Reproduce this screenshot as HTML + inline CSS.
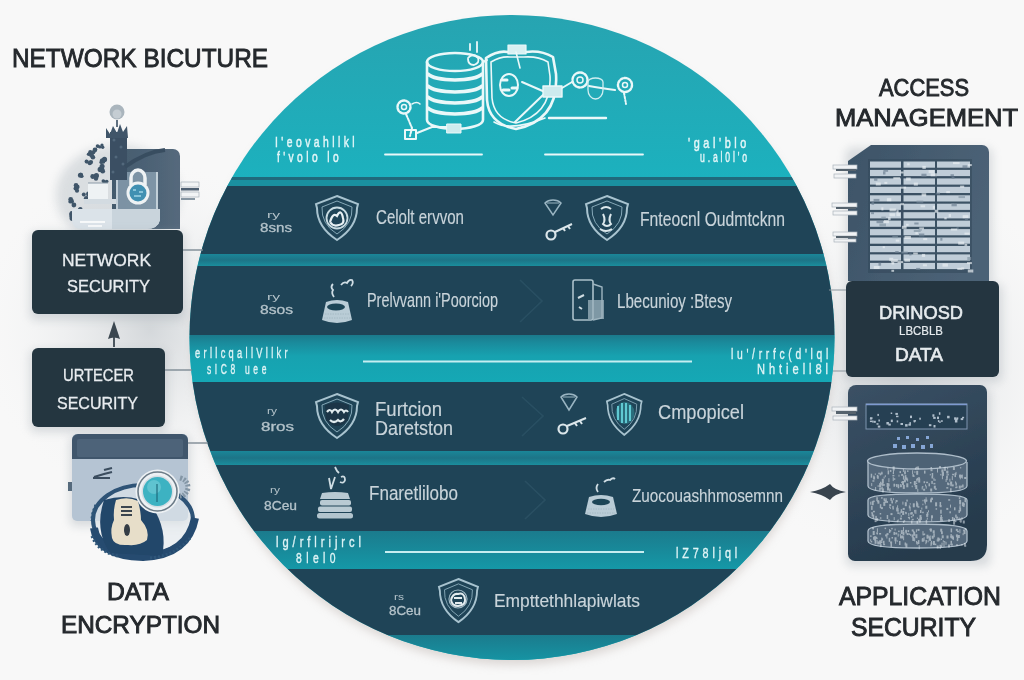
<!DOCTYPE html>
<html><head><meta charset="utf-8">
<style>
html,body{margin:0;padding:0;width:1024px;height:680px;overflow:hidden;background:#f4f5f6;}
svg{display:block;}
text{font-family:"Liberation Sans",sans-serif;}
</style></head>
<body>
<svg width="1024" height="680" viewBox="0 0 1024 680">
<defs>
  <linearGradient id="cap" x1="0" y1="15" x2="0" y2="178" gradientUnits="userSpaceOnUse">
    <stop offset="0" stop-color="#27a4b1"/>
    <stop offset="1" stop-color="#1cb1be"/>
  </linearGradient>
  <linearGradient id="stripe" x1="0" y1="0" x2="0" y2="1">
    <stop offset="0" stop-color="#1a8698"/>
    <stop offset="0.5" stop-color="#1d7487"/>
    <stop offset="1" stop-color="#1a8e9d"/>
  </linearGradient>
  <linearGradient id="band" x1="0" y1="0" x2="0" y2="1">
    <stop offset="0" stop-color="#1b7a8c"/>
    <stop offset="0.17" stop-color="#1a8b9c"/>
    <stop offset="0.45" stop-color="#17a2b0"/>
    <stop offset="1" stop-color="#15a8b5"/>
  </linearGradient>
  <linearGradient id="band2" x1="0" y1="0" x2="0" y2="1">
    <stop offset="0" stop-color="#1b7b8d"/>
    <stop offset="1" stop-color="#1598a7"/>
  </linearGradient>
  <radialGradient id="shadeL" cx="150" cy="330" r="170" gradientUnits="userSpaceOnUse">
    <stop offset="0" stop-color="#c8cdd1" stop-opacity="0.75"/>
    <stop offset="1" stop-color="#f4f5f6" stop-opacity="0"/>
  </radialGradient>
  <radialGradient id="shadeR" cx="900" cy="370" r="190" gradientUnits="userSpaceOnUse">
    <stop offset="0" stop-color="#c8cdd1" stop-opacity="0.7"/>
    <stop offset="1" stop-color="#f4f5f6" stop-opacity="0"/>
  </radialGradient>
  <clipPath id="circ"><circle cx="512" cy="337.5" r="322.5"/></clipPath>
  <filter id="blur1" x="-20%" y="-20%" width="140%" height="140%"><feGaussianBlur stdDeviation="5"/></filter>
  <filter id="blur2" x="-20%" y="-20%" width="140%" height="140%"><feGaussianBlur stdDeviation="16"/></filter>
  <filter id="soft" x="-5%" y="-5%" width="110%" height="110%"><feGaussianBlur stdDeviation="0.45"/></filter>
</defs>
<rect width="1024" height="680" fill="#f8f8f8"/>
<rect width="1024" height="680" fill="url(#shadeL)"/>
<rect width="1024" height="680" fill="url(#shadeR)"/>

<!-- circle shadow -->
<circle cx="513" cy="344" r="321" fill="#c4bcb8" opacity="0.55" filter="url(#blur1)"/>

<!-- circle -->
<g clip-path="url(#circ)">
  <rect x="180" y="10" width="670" height="670" fill="url(#cap)"/>
  <rect x="180" y="177" width="670" height="3" fill="#20697b"/>
  <rect x="180" y="180" width="670" height="6" fill="#1a90a0"/>
  <rect x="180" y="186" width="670" height="68" fill="#1f4457"/>
  <rect x="180" y="254" width="670" height="12" fill="url(#stripe)"/>
  <rect x="180" y="266" width="670" height="69" fill="#1f4457"/>
  <rect x="180" y="335" width="670" height="47" fill="url(#band)"/>
  <rect x="180" y="382" width="670" height="69" fill="#1f4457"/>
  <rect x="180" y="451" width="670" height="14" fill="url(#stripe)"/>
  <rect x="180" y="465" width="670" height="66" fill="#1f4457"/>
  <rect x="180" y="531" width="670" height="38" fill="url(#band2)"/>
  <rect x="180" y="569" width="670" height="66" fill="#1f4457"/>
  <rect x="180" y="635" width="670" height="30" fill="url(#band2)"/>
</g>

<!-- ICONS_CENTER -->
<g fill="none" stroke="#eaf8f9" stroke-linecap="round" stroke-linejoin="round" filter="url(#soft)">
  <!-- database -->
  <path d="M427 62 V120 A28 9 0 0 0 483 120 V62" stroke-width="2.6"/>
  <ellipse cx="455" cy="62" rx="28" ry="9" stroke-width="2.6"/>
  <path d="M428 74 A28 8 0 0 0 482 74" stroke-width="3.5"/>
  <path d="M428 86 A28 8 0 0 0 482 86" stroke-width="3.5"/>
  <path d="M428 97 A28 8 0 0 0 482 97" stroke-width="3.5"/>
  <path d="M428 108 A28 8 0 0 0 482 108" stroke-width="3.5"/>
  <!-- shield -->
  <path d="M486 58 Q498 50 508 52 H526 Q541 50 553 57 L556 74 Q559 120 516 129 Q489 124 487 100 Z" stroke-width="2.6"/>
  <path d="M491 62 Q501 56 510 57 H524 Q538 56 548 62 L550 76 Q552 114 516 123 Q494 119 492 98 Z" stroke-width="1.6"/>
  <rect x="508" y="45" width="18" height="9" fill="#d8f0f2" stroke-width="1.2"/>
  <ellipse cx="509" cy="85" rx="9" ry="11" stroke-width="2"/>
  <path d="M502 80 h5 M503 90 h6 M512 88 h5" stroke-width="3"/>
  <path d="M522 82 L545 92 M515 122 L543 95" stroke-width="2"/>
  <path d="M516 52 L520 68" stroke-width="1.6"/>
  <rect x="543" y="86" width="19" height="11" fill="#cdebee" stroke-width="1.4"/>
  <!-- squiggle top -->
  <path d="M470 44 v6 M477 42 v10 M468 58 q5 -6 10 0 q2 5 -4 7 q-6 0 -6 -6" stroke-width="1.8"/>
  <path d="M483 62 L487 60" stroke-width="2"/>
  <!-- left gear + chain -->
  <circle cx="404" cy="107" r="6.5" stroke-width="2.4" stroke-dasharray="2.5 1.5"/>
  <circle cx="404" cy="107" r="2.5" stroke-width="1.5"/>
  <path d="M406 114 L412 128 L410 136" stroke-width="2" stroke-dasharray="3 1.5"/>
  <path d="M412 104 q5 -3 8 0" stroke-width="1.5"/>
  <rect x="405" y="130" width="11" height="9" stroke-width="2"/>
  <path d="M417 133 L432 127 H460" stroke-width="2"/>
  <rect x="447" y="124" width="14" height="9" fill="#cdebee" stroke-width="1"/>
  <!-- right gears -->
  <path d="M562 88 L572 82" stroke-width="1.8"/>
  <circle cx="580" cy="80" r="7.5" stroke-width="2.4" stroke-dasharray="2.5 1.5"/>
  <circle cx="580" cy="80" r="3" stroke-width="1.5"/>
  <path d="M589 86 Q600 88 615 90" stroke-width="2"/>
  <path d="M588 90 a7.5 9 0 0 0 15 0 v-8 a7.5 4 0 0 0 -15 0 z" stroke="#cfeef1" stroke-width="1.3"/>
  <circle cx="625" cy="85" r="7" stroke-width="2.4" stroke-dasharray="2.5 1.5"/>
  <circle cx="625" cy="85" r="2.5" stroke-width="1.5"/>
  <path d="M624 93 L626 104" stroke-width="2" stroke-dasharray="2 1.5"/>
  <path d="M549 118 H606" stroke-width="2.4"/>
  <path d="M494 122 Q510 132 545 118" stroke-width="1.6"/>
  <!-- base lines -->
  <path d="M385 154.5 H482 M545 154.5 H643" stroke-width="1.8"/>
</g>
<!-- tiny pseudo text (top cap) -->
<g fill="#e3f6f8" stroke="#e3f6f8" stroke-width="0.5" font-size="15" filter="url(#soft)">
  <text x="275" y="147" textLength="83" lengthAdjust="spacingAndGlyphs" letter-spacing="5">I'eovahllkl</text>
  <text x="277" y="162" textLength="65" lengthAdjust="spacingAndGlyphs" letter-spacing="5">f'volo lo</text>
  <text x="688" y="148" textLength="62" lengthAdjust="spacingAndGlyphs" letter-spacing="5">'gal'blo</text>
  <text x="700" y="162" textLength="50" lengthAdjust="spacingAndGlyphs" letter-spacing="5">u.al0l'o</text>
</g>


<!-- ROWS -->
<defs>
  <g id="shld">
    <path d="M22 1 L43 9 L42 13 Q42 32 22 45 Q2 32 2 13 L1 9 Z" fill="none" stroke="#a8c3cf" stroke-width="2"/>
    <path d="M22 6 L37 12 Q38 29 22 39 Q6 29 7 12 Z" fill="none" stroke="#86a9b8" stroke-width="1"/>
  </g>
</defs>
<g filter="url(#soft)">
  <!-- row1 left -->
  <use href="#shld" x="315" y="195"/>
  <circle cx="337" cy="218" r="10.5" fill="none" stroke="#c8dbe2" stroke-width="1.8"/>
  <path d="M330 222 q3 -10 7 -6 q4 -8 6 2 q2 6 -4 7 q-6 2 -9 -3" fill="none" stroke="#e8f0f3" stroke-width="2.2"/>
  <!-- row1 right -->
  <use href="#shld" x="585" y="195"/>
  <path d="M601 209 q5 -4 10 0 M603 214 q3 6 0 10 q4 4 8 0 q-3 -4 0 -10 M600 229 q6 4 12 0" fill="none" stroke="#dce8ec" stroke-width="2"/>
  <path d="M545 203 q3 -3 8 -3 q5 0 8 3 l-8 12 z" fill="none" stroke="#9ab5c2" stroke-width="1.5"/><path d="M547 203 h12" stroke="#9ab5c2" stroke-width="1"/>
  <circle cx="551" cy="235" r="4.5" fill="none" stroke="#dbe6ea" stroke-width="2.2"/>
  <path d="M555 232 L572 224 M563 228 l2 3 M568 226 l2 3" fill="none" stroke="#dbe6ea" stroke-width="2"/>
  <!-- row2 left bowl -->
  <path d="M322 320 L326 302 Q337 298 348 302 L352 320 Q337 326 322 320 Z" fill="#b9ccd6"/>
  <ellipse cx="336" cy="307" rx="9" ry="3.5" fill="#1f4457"/>
  <path d="M325 314 h25 M324 318 h27" stroke="#9fb5c0" stroke-width="0.8" stroke-dasharray="1.5 1"/>
  <path d="M334 297 q-3 -4 -1 -7 q-3 -3 0 -6 M341 285 q3 -4 6 -2 q2 -4 5 -3 q2 3 -1 6" fill="none" stroke="#cfdde4" stroke-width="1.8"/>
  <!-- row2 right doc -->
  <rect x="573" y="280" width="20" height="40" rx="2" fill="none" stroke="#aac0ca" stroke-width="1.6"/>
  <path d="M593 284 L602 287 V318 L593 320" fill="none" stroke="#9fb6c1" stroke-width="1.4"/>
  <rect x="588" y="300" width="16" height="19" fill="#9fb4bf" opacity="0.75"/>
  <path d="M578 298 l6 -3 M579 307 l3 2" stroke="#cfdce2" stroke-width="2"/>
  <!-- row3 left shield -->
  <use href="#shld" x="315" y="393"/>
  <path d="M325 405 Q337 400 349 405 L348 420 Q337 432 326 420 Z" fill="#1b3647"/>
  <path d="M327 412 q3 -4 5 0 q3 -5 6 0 q3 -5 6 0 q2 -3 4 0 M330 420 q4 4 8 0 q3 3 6 -1" fill="none" stroke="#e1ebef" stroke-width="2.2"/>
  <!-- row3 right shield -->
  <use href="#shld" x="606" y="393" transform="translate(606 393) scale(0.83 0.93) translate(-606 -393)"/>
  <ellipse cx="625" cy="413" rx="9.5" ry="11" fill="#2b6d7c"/>
  <path d="M618 406 v14 M622 403 v20 M626 403 v20 M630 405 v16" stroke="#6fe0e8" stroke-width="1.6"/>
  <path d="M561 397 q3 -3 8 -3 q5 0 8 3 l-8 13 z" fill="none" stroke="#9ab5c2" stroke-width="1.5"/><path d="M563 397 h12" stroke="#9ab5c2" stroke-width="1"/>
  <circle cx="563" cy="429" r="4.5" fill="none" stroke="#dbe6ea" stroke-width="2.2"/>
  <path d="M567 426 L586 418 M575 423 l2 3 M580 421 l2 3" fill="none" stroke="#dbe6ea" stroke-width="2"/>
  <!-- row4 left stack -->
  <path d="M322 493 Q335 491 348 493 L350 499 H320 Z" fill="#b9cad3"/>
  <rect x="320" y="500" width="31" height="5.5" rx="2" fill="#b9cad3"/>
  <rect x="318" y="506.5" width="34" height="5.5" rx="2" fill="#b9cad3"/>
  <rect x="317" y="513" width="36" height="5.5" rx="2.5" fill="#b3c5ce"/>
  <path d="M329 478 l2 11 l4 -12 M341 477 q4 -2 4 3 q-1 4 -5 2 M335 467 l2 4 l2 2" fill="none" stroke="#cfdde3" stroke-width="1.8"/>
  <!-- row4 right bowl -->
  <path d="M585 514 L589 497 Q601 493 613 497 L617 514 Q601 520 585 514 Z" fill="#b9ccd6"/>
  <ellipse cx="601" cy="502" rx="9" ry="3.2" fill="#1f4457"/>
  <path d="M588 509 h26 M587 513 h28" stroke="#9fb5c0" stroke-width="0.8" stroke-dasharray="1.5 1"/>
  <path d="M598 492 q-3 -4 0 -8 M604 482 q3 -3 6 -2 q3 -3 5 -1" fill="none" stroke="#cfdde4" stroke-width="1.8"/>
  <!-- row5 shield -->
  <use href="#shld" x="438" y="578" transform="translate(438 578) scale(0.93 0.98) translate(-438 -578)"/>
  <circle cx="458" cy="599" r="9" fill="none" stroke="#9fb8c3" stroke-width="1.2"/>
  <path d="M451 600 q2 -7 7 -6 q6 -2 7 5 q1 6 -7 7 q-6 0 -7 -6 M454 598 h8 M455 603 h7" fill="none" stroke="#e3ecef" stroke-width="2"/>
</g>
<!-- faint chevrons -->
<g fill="none" stroke="#2b5164" stroke-width="1.6" opacity="0.9">
  <path d="M520 280 L542 301 L520 322"/>
  <path d="M522 397 L543 416 L522 436"/>
  <path d="M525 481 L545 500 L525 519"/>
</g>
<g fill="#c9d4da" stroke="#c9d4da" stroke-width="0.15" filter="url(#soft)">
  <text x="376" y="224" font-size="19.5" textLength="88" lengthAdjust="spacingAndGlyphs">Celolt ervvon</text>
  <text x="640" y="226" font-size="19.5" textLength="145" lengthAdjust="spacingAndGlyphs">Fnteocnl Oudmtcknn</text>
  <text x="367" y="307" font-size="19.5" textLength="131" lengthAdjust="spacingAndGlyphs">Prelvvann i'Poorciop</text>
  <text x="617" y="308" font-size="19.5" textLength="115" lengthAdjust="spacingAndGlyphs">Lbecunioy :Btesy</text>
  <text x="375" y="416" font-size="19.5" textLength="67" lengthAdjust="spacingAndGlyphs">Furtcion</text>
  <text x="375" y="435" font-size="19.5" textLength="78" lengthAdjust="spacingAndGlyphs">Daretston</text>
  <text x="658" y="419" font-size="19.5" textLength="86" lengthAdjust="spacingAndGlyphs">Cmpopicel</text>
  <text x="369" y="500" font-size="19.5" textLength="89" lengthAdjust="spacingAndGlyphs">Fnaretlilobo</text>
  <text x="632" y="502" font-size="19" textLength="151" lengthAdjust="spacingAndGlyphs">Zuocouashhmosemnn</text>
  <text x="494" y="607" font-size="19" textLength="146" lengthAdjust="spacingAndGlyphs">Empttethhlapiwlats</text>
</g>
<g fill="#b4c3ca" font-size="11" filter="url(#soft)">
  <text x="267" y="218" font-size="9" textLength="13" lengthAdjust="spacingAndGlyphs">ry</text>
  <text x="260" y="232" font-size="12.5" stroke="#b4c3ca" stroke-width="0.3" textLength="32" lengthAdjust="spacingAndGlyphs">8sns</text>
  <text x="267" y="300" font-size="9" textLength="13" lengthAdjust="spacingAndGlyphs">ry</text>
  <text x="260" y="314" font-size="12.5" stroke="#b4c3ca" stroke-width="0.3" textLength="33" lengthAdjust="spacingAndGlyphs">8sos</text>
  <text x="267" y="414" font-size="9" textLength="10" lengthAdjust="spacingAndGlyphs">ry</text>
  <text x="261" y="431" font-size="12.5" stroke="#b4c3ca" stroke-width="0.3" textLength="33" lengthAdjust="spacingAndGlyphs">8ros</text>
  <text x="270" y="493" font-size="9" textLength="10" lengthAdjust="spacingAndGlyphs">ry</text>
  <text x="264" y="510" font-size="12.5" stroke="#b4c3ca" stroke-width="0.3" textLength="33" lengthAdjust="spacingAndGlyphs">8Ceu</text>
  <text x="394" y="600" font-size="9" textLength="10" lengthAdjust="spacingAndGlyphs">rs</text>
  <text x="389" y="615" font-size="12.5" stroke="#b4c3ca" stroke-width="0.3" textLength="32" lengthAdjust="spacingAndGlyphs">8Ceu</text>
</g>
<!-- teal band pseudo text + lines -->
<g stroke="#c6eef1" stroke-width="2" filter="url(#soft)">
  <path d="M363 361.5 H692"/>
  <path d="M385 552 H644"/>
</g>
<g fill="#dff4f6" stroke="#dff4f6" stroke-width="0.35" font-size="14" filter="url(#soft)">
  <text x="195" y="358" textLength="96" lengthAdjust="spacingAndGlyphs" letter-spacing="5">erllcqallVllkr</text>
  <text x="207" y="374" textLength="63" lengthAdjust="spacingAndGlyphs" letter-spacing="6">sIC8 uee</text>
  <text x="731" y="359" textLength="101" lengthAdjust="spacingAndGlyphs" letter-spacing="5">lu'/rrfc(d'lql</text>
  <text x="757" y="374" textLength="75" lengthAdjust="spacingAndGlyphs" letter-spacing="5">Nhtiell8l</text>
  <text x="276" y="547" textLength="89" lengthAdjust="spacingAndGlyphs" letter-spacing="5">lg/rflrijrcl</text>
  <text x="296" y="563" textLength="44" lengthAdjust="spacingAndGlyphs" letter-spacing="6">8lel0</text>
  <text x="676" y="558" textLength="65" lengthAdjust="spacingAndGlyphs" letter-spacing="5">lZ78ljql</text>
</g>


<!-- LEFT -->
<!-- connector lines -->
<g stroke="#7d8a94" stroke-width="1.4">
  <path d="M183 250 H203"/>
  <path d="M165 370 H192"/>
  <path d="M188 443 H208"/>
</g>
<!-- network device -->
<defs>
  <linearGradient id="ndp" x1="0" y1="0" x2="1" y2="0">
    <stop offset="0" stop-color="#435a6d"/>
    <stop offset="1" stop-color="#55697c"/>
  </linearGradient>
</defs>
<ellipse cx="118" cy="195" rx="62" ry="50" fill="#b7bfc5" opacity="0.45" filter="url(#blur1)"/>
<g filter="url(#soft)">
  <path d="M112 149 H173 a7 7 0 0 1 7 7 V229 H112 Z" fill="url(#ndp)"/>
  <!-- connector -->
  <rect x="181" y="182" width="18" height="5" fill="#f2f4f5" stroke="#9aa6af" stroke-width="0.6"/>
  <rect x="181" y="188" width="18" height="2.5" fill="#4f6172"/>
  <rect x="181" y="192" width="18" height="5" fill="#f2f4f5" stroke="#9aa6af" stroke-width="0.6"/>
  <rect x="181" y="198" width="14" height="2" fill="#8796a2"/>
  <!-- glass box -->
  <rect x="116" y="172" width="42" height="38" fill="#93aabb" opacity="0.7"/>
  <path d="M117 172 V210 M157 172 V210" stroke="#e0e8ee" stroke-width="1.4" fill="none"/>
  <!-- padlock -->
  <path d="M131 185 V178 a7 8 0 0 1 14 0 V185" fill="none" stroke="#eef2f4" stroke-width="3.5"/>
  <circle cx="138" cy="193" r="11.5" fill="#eef2f4"/>
  <circle cx="138" cy="193" r="8.5" fill="#3f90b2"/>
  <path d="M133 190 h3 M139 192 h4 M134 196 h7" stroke="#9fd3e6" stroke-width="1.3"/>
  <!-- plant column -->
  <rect x="110" y="132" width="17" height="48" fill="#3b5064"/>
  <g fill="#52687b"><circle cx="114" cy="140" r="1.5"/><circle cx="121" cy="147" r="1.5"/><circle cx="116" cy="157" r="1.5"/><circle cx="123" cy="164" r="1.5"/><circle cx="113" cy="172" r="1.5"/></g>
  <path d="M106 128 l4 6 l3 -8 l4 7 l3 -9 l3 8 l4 -6 l1 12 h-22 Z" fill="#3f5569"/>
  <circle cx="117" cy="112" r="7.5" fill="#aab5bd"/>
  <circle cx="117" cy="114" r="4.5" fill="#c5cdd3"/>
  <path d="M117 120 v7" stroke="#5f7080" stroke-width="2"/>
  <path d="M125 167 Q145 152 165 150" fill="none" stroke="#394e61" stroke-width="4"/>
  <!-- leaf dots -->
  <g fill="#3f5569"><circle cx="94.9" cy="149.9" r="2.3"/><circle cx="93.4" cy="152.2" r="2.0"/><circle cx="93.3" cy="152.0" r="1.6"/><circle cx="95.6" cy="149.4" r="1.7"/><circle cx="103.5" cy="162.0" r="1.7"/><circle cx="102.3" cy="160.8" r="2.5"/><circle cx="104.5" cy="159.4" r="2.6"/><circle cx="101.3" cy="162.2" r="1.9"/><circle cx="86.9" cy="161.7" r="1.9"/><circle cx="90.9" cy="162.1" r="2.2"/><circle cx="89.8" cy="163.2" r="2.1"/><circle cx="86.4" cy="161.4" r="1.8"/><circle cx="81.1" cy="174.6" r="1.9"/><circle cx="80.5" cy="174.7" r="1.9"/><circle cx="81.8" cy="176.2" r="1.8"/><circle cx="80.4" cy="175.2" r="2.5"/><circle cx="96.4" cy="175.7" r="2.6"/><circle cx="92.7" cy="176.5" r="2.4"/><circle cx="92.9" cy="176.9" r="1.6"/><circle cx="96.0" cy="178.6" r="2.2"/><circle cx="77.3" cy="186.9" r="2.3"/><circle cx="75.6" cy="188.5" r="2.1"/><circle cx="77.0" cy="190.7" r="2.1"/><circle cx="76.0" cy="185.4" r="2.3"/><circle cx="73.9" cy="205.0" r="2.4"/><circle cx="71.7" cy="201.3" r="2.3"/><circle cx="70.1" cy="201.8" r="1.8"/><circle cx="70.7" cy="199.4" r="2.4"/><circle cx="83.8" cy="194.5" r="2.0"/><circle cx="88.2" cy="193.5" r="2.0"/><circle cx="86.3" cy="198.3" r="2.4"/><circle cx="88.2" cy="194.7" r="2.0"/><circle cx="72.2" cy="218.3" r="2.6"/><circle cx="70.9" cy="214.1" r="1.8"/><circle cx="71.4" cy="215.9" r="2.2"/><circle cx="71.6" cy="213.0" r="2.0"/><circle cx="100.2" cy="169.4" r="2.6"/><circle cx="102.1" cy="169.1" r="2.2"/><circle cx="102.1" cy="166.3" r="2.5"/><circle cx="102.7" cy="171.2" r="2.4"/><circle cx="105.4" cy="183.4" r="1.7"/><circle cx="106.8" cy="181.4" r="1.7"/><circle cx="104.3" cy="182.0" r="1.9"/><circle cx="103.3" cy="181.0" r="1.8"/><circle cx="79.6" cy="209.2" r="1.6"/><circle cx="84.2" cy="210.7" r="1.7"/><circle cx="80.5" cy="209.1" r="2.0"/><circle cx="79.7" cy="212.1" r="2.6"/><circle cx="99.8" cy="146.9" r="1.7"/><circle cx="97.6" cy="146.1" r="1.9"/><circle cx="102.0" cy="145.0" r="1.6"/><circle cx="102.7" cy="147.2" r="1.7"/><circle cx="90.3" cy="152.2" r="2.1"/><circle cx="92.9" cy="157.2" r="2.3"/><circle cx="88.6" cy="154.2" r="1.8"/><circle cx="91.6" cy="155.2" r="2.4"/></g>
  <rect x="88" y="183" width="20" height="16" fill="#eef2f4"/>
  <path d="M88 183 h20" stroke="#8a9aa7" stroke-width="1"/>
  <rect x="84" y="199" width="32" height="5" fill="#d3dbe1"/>
  <!-- bowl base -->
  <path d="M72 209 H160 V220 Q158 229 146 229 H82 Q72 229 72 220 Z" fill="#dbe3e9"/>
  <path d="M112 209 H160 V220 Q158 229 146 229 H112 Z" fill="#c9d4dc"/>
  <path d="M80 222 h25 M88 226 h14" stroke="#f7f9fa" stroke-width="2"/>
</g>
<!-- boxes -->
<g filter="url(#blur1)" fill="#9aa3aa" opacity="0.35">
  <rect x="30" y="232" width="155" height="88" rx="6"/>
  <rect x="30" y="350" width="137" height="82" rx="6"/>
  <rect x="70" y="436" width="120" height="90" rx="6"/>
</g>
<rect x="32" y="230" width="151" height="84" rx="6" fill="#243640"/>
<rect x="32" y="348" width="133" height="79" rx="6" fill="#243640"/>
<g fill="#e9edf0" stroke="#e9edf0" stroke-width="0.3" font-size="17">
  <text x="62" y="266" textLength="89" lengthAdjust="spacingAndGlyphs">NETWORK</text>
  <text x="67" y="292" textLength="83" lengthAdjust="spacingAndGlyphs">SECURITY</text>
  <text x="63" y="381" textLength="71" lengthAdjust="spacingAndGlyphs">URTECER</text>
  <text x="57" y="409" textLength="81" lengthAdjust="spacingAndGlyphs">SECURITY</text>
</g>
<!-- arrow -->
<path d="M114 347 V336" stroke="#3b4750" stroke-width="1.8"/>
<path d="M108 339 L114 321 L120 339 Q114 336 108 339 Z" fill="#3b4750"/>
<!-- encryption device -->
<g filter="url(#soft)">
  <rect x="72" y="434" width="116" height="87" rx="5" fill="#b5c4d3"/>
  <path d="M72 459 V440 a6 6 0 0 1 6 -6 H182 a6 6 0 0 1 6 6 V459 Z" fill="#40576c"/>
  <rect x="77" y="439" width="106" height="18" rx="2" fill="#4d6479"/>
  <path d="M94 477 l10 -3 l8 -2 M93 478 h17 M104 470 l8 -2" stroke="#3b4d5e" stroke-width="2.2"/>
  <rect x="68" y="482" width="4" height="9" fill="#546a7c"/>
  <!-- ring -->
  <ellipse cx="143" cy="520" rx="49" ry="34" fill="#e3e9ee" opacity="0.6"/>
  <ellipse cx="143" cy="520" rx="50" ry="35" fill="none" stroke="#2d5276" stroke-width="4"/>
  <path d="M94 528 Q98 556 143 557 Q188 555 195 518" fill="none" stroke="#274b70" stroke-width="8"/>
  <path d="M104 500 Q94 530 110 553 L162 556 Q168 530 152 506 Q132 492 104 500 Z" fill="#23466a"/>
  <path d="M92 536 q6 16 26 20 M150 558 q25 -2 40 -20 M96 505 q-4 8 -4 16" fill="none" stroke="#2f5679" stroke-width="3" stroke-dasharray="2 2"/>
  <!-- lock body -->
  <path d="M116 500 Q128 496 138 501 Q141 512 141 520 Q150 530 147 540 Q140 546 128 545 Q114 546 112 538 Q110 528 114 520 Q113 510 116 500 Z" fill="#e7dec9"/>
  <path d="M121 507 h11 M121 511 h11 M121 515 h11" stroke="#3a4550" stroke-width="1.8"/>
  <ellipse cx="127" cy="530" rx="3" ry="6" fill="#343d45"/>
  <!-- lens -->
  <circle cx="157.5" cy="491.5" r="22" fill="#edf1f4"/>
  <circle cx="157.5" cy="491.5" r="19.5" fill="none" stroke="#6c7b87" stroke-width="1.6"/>
  <circle cx="157.5" cy="491.5" r="16" fill="#d5dde3"/>
  <circle cx="157.5" cy="491.5" r="14.5" fill="#3db2c2"/>
  <circle cx="154" cy="487" r="7" fill="#74ced8" opacity="0.6"/>
  <path d="M157 484 V502" stroke="#1f6b7d" stroke-width="1.2"/>
  <path d="M180 478 q8 2 8 10 q-2 8 -8 8" fill="none" stroke="#8496a5" stroke-width="5" stroke-dasharray="2 1.5"/>
</g>


<!-- RIGHT -->

<!-- access mgmt panel -->
<g filter="url(#blur1)" fill="#9aa3aa" opacity="0.35">
  <rect x="846" y="148" width="146" height="136" rx="6"/>
  <rect x="844" y="284" width="158" height="98" rx="6"/>
  <rect x="846" y="388" width="144" height="178" rx="6"/>
</g>
<defs>
  <linearGradient id="amp" x1="0" y1="0" x2="1" y2="0.3">
    <stop offset="0" stop-color="#3d5468"/>
    <stop offset="1" stop-color="#4c6276"/>
  </linearGradient>
  <linearGradient id="dbp" x1="0" y1="0" x2="0.4" y2="1">
    <stop offset="0" stop-color="#3b5165"/>
    <stop offset="1" stop-color="#253a4c"/>
  </linearGradient>
</defs>
<g filter="url(#soft)">
  <path d="M871 145 H982 a7 7 0 0 1 7 7 V281 H848 V161 Z" fill="url(#amp)"/>
  <rect x="868" y="159" width="104" height="114" fill="#34495c" opacity="0.6"/>
  <g fill="#c0cdd8">
  <rect x="870" y="161.5" width="31" height="6.2"/>
  <rect x="903.5" y="161.5" width="31.5" height="6.2"/>
  <rect x="937" y="161.5" width="33" height="6.2"/>
  <rect x="870" y="169.9" width="31" height="6.2"/>
  <rect x="903.5" y="169.9" width="31.5" height="6.2"/>
  <rect x="937" y="169.9" width="33" height="6.2"/>
  <rect x="870" y="178.4" width="31" height="6.2"/>
  <rect x="903.5" y="178.4" width="31.5" height="6.2"/>
  <rect x="937" y="178.4" width="33" height="6.2"/>
  <rect x="870" y="186.8" width="31" height="6.2"/>
  <rect x="903.5" y="186.8" width="31.5" height="6.2"/>
  <rect x="937" y="186.8" width="33" height="6.2"/>
  <rect x="870" y="195.3" width="31" height="6.2"/>
  <rect x="903.5" y="195.3" width="31.5" height="6.2"/>
  <rect x="937" y="195.3" width="33" height="6.2"/>
  <rect x="870" y="203.7" width="31" height="6.2"/>
  <rect x="903.5" y="203.7" width="31.5" height="6.2"/>
  <rect x="937" y="203.7" width="33" height="6.2"/>
  <rect x="870" y="212.2" width="31" height="6.2"/>
  <rect x="903.5" y="212.2" width="31.5" height="6.2"/>
  <rect x="937" y="212.2" width="33" height="6.2"/>
  <rect x="870" y="220.6" width="31" height="6.2"/>
  <rect x="903.5" y="220.6" width="31.5" height="6.2"/>
  <rect x="937" y="220.6" width="33" height="6.2"/>
  <rect x="870" y="229.1" width="31" height="6.2"/>
  <rect x="903.5" y="229.1" width="31.5" height="6.2"/>
  <rect x="937" y="229.1" width="33" height="6.2"/>
  <rect x="870" y="237.5" width="31" height="6.2"/>
  <rect x="903.5" y="237.5" width="31.5" height="6.2"/>
  <rect x="937" y="237.5" width="33" height="6.2"/>
  <rect x="870" y="246.0" width="31" height="6.2"/>
  <rect x="903.5" y="246.0" width="31.5" height="6.2"/>
  <rect x="937" y="246.0" width="33" height="6.2"/>
  <rect x="870" y="254.4" width="31" height="6.2"/>
  <rect x="903.5" y="254.4" width="31.5" height="6.2"/>
  <rect x="937" y="254.4" width="33" height="6.2"/>
  <rect x="870" y="262.9" width="31" height="6.2"/>
  <rect x="903.5" y="262.9" width="31.5" height="6.2"/>
  <rect x="937" y="262.9" width="33" height="6.2"/>
  </g>
  <g opacity="0.7"><rect x="914.3" y="222.5" width="4.3" height="2" fill="#6f8294"/><rect x="888.1" y="217.3" width="2.5" height="3" fill="#e9eff3"/><rect x="883.9" y="220.2" width="5.0" height="3" fill="#e9eff3"/><rect x="964.5" y="232.6" width="5.1" height="2" fill="#e9eff3"/><rect x="875.8" y="182.5" width="5.0" height="3" fill="#e9eff3"/><rect x="902.0" y="225.8" width="4.6" height="3" fill="#e9eff3"/><rect x="919.0" y="233.5" width="5.3" height="3" fill="#6f8294"/><rect x="967.8" y="269.5" width="5.5" height="3" fill="#e9eff3"/><rect x="944.3" y="217.4" width="2.4" height="2" fill="#e9eff3"/><rect x="909.2" y="253.4" width="2.3" height="2" fill="#6f8294"/><rect x="953.0" y="162.1" width="6.6" height="2" fill="#e9eff3"/><rect x="916.1" y="267.9" width="4.1" height="2" fill="#6f8294"/><rect x="946.3" y="191.1" width="3.6" height="2" fill="#e9eff3"/><rect x="964.5" y="243.9" width="2.7" height="2" fill="#e9eff3"/><rect x="871.1" y="212.2" width="2.9" height="2" fill="#6f8294"/><rect x="913.8" y="182.6" width="4.1" height="3" fill="#e9eff3"/><rect x="881.4" y="207.4" width="2.0" height="3" fill="#e9eff3"/><rect x="967.8" y="164.1" width="4.0" height="2" fill="#e9eff3"/><rect x="874.1" y="177.8" width="3.3" height="3" fill="#6f8294"/><rect x="951.4" y="203.7" width="2.5" height="2" fill="#e9eff3"/><rect x="871.5" y="201.8" width="2.6" height="3" fill="#6f8294"/><rect x="951.6" y="176.7" width="2.9" height="2" fill="#6f8294"/><rect x="900.5" y="186.7" width="5.6" height="2" fill="#e9eff3"/><rect x="942.5" y="263.6" width="5.4" height="3" fill="#e9eff3"/><rect x="956.5" y="227.2" width="2.2" height="2" fill="#6f8294"/><rect x="873.8" y="266.0" width="5.7" height="3" fill="#e9eff3"/><rect x="895.2" y="251.0" width="3.5" height="2" fill="#6f8294"/><rect x="961.1" y="267.5" width="3.1" height="2" fill="#e9eff3"/><rect x="897.5" y="261.1" width="5.7" height="2" fill="#e9eff3"/><rect x="896.4" y="210.1" width="2.2" height="3" fill="#e9eff3"/><rect x="906.1" y="223.8" width="2.5" height="2" fill="#e9eff3"/><rect x="957.3" y="267.9" width="4.9" height="2" fill="#e9eff3"/><rect x="916.5" y="200.6" width="6.8" height="2" fill="#8597a6"/><rect x="928.6" y="170.1" width="5.7" height="3" fill="#e9eff3"/><rect x="883.4" y="169.8" width="4.7" height="2" fill="#6f8294"/><rect x="958.2" y="241.6" width="6.0" height="3" fill="#e9eff3"/><rect x="904.5" y="236.0" width="6.4" height="3" fill="#e9eff3"/><rect x="962.5" y="165.3" width="4.9" height="3" fill="#6f8294"/><rect x="907.2" y="163.3" width="2.4" height="2" fill="#e9eff3"/><rect x="967.3" y="257.0" width="3.9" height="3" fill="#8597a6"/><rect x="913.2" y="252.5" width="4.6" height="2" fill="#e9eff3"/><rect x="900.4" y="171.5" width="3.2" height="2" fill="#e9eff3"/><rect x="918.7" y="228.4" width="3.3" height="2" fill="#6f8294"/><rect x="906.1" y="177.5" width="4.6" height="3" fill="#e9eff3"/><rect x="934.7" y="209.7" width="3.6" height="3" fill="#e9eff3"/><rect x="889.5" y="208.5" width="6.4" height="3" fill="#e9eff3"/><rect x="891.5" y="261.4" width="2.7" height="3" fill="#e9eff3"/><rect x="904.4" y="258.7" width="5.6" height="3" fill="#e9eff3"/><rect x="950.5" y="174.2" width="3.4" height="2" fill="#6f8294"/><rect x="951.4" y="203.3" width="5.4" height="3" fill="#6f8294"/><rect x="901.4" y="251.5" width="6.4" height="2" fill="#8597a6"/><rect x="936.5" y="192.4" width="3.5" height="2" fill="#8597a6"/><rect x="932.8" y="205.8" width="2.1" height="3" fill="#e9eff3"/><rect x="893.3" y="177.2" width="6.9" height="2" fill="#e9eff3"/><rect x="913.8" y="230.0" width="6.8" height="2" fill="#8597a6"/><rect x="889.5" y="213.3" width="5.6" height="3" fill="#e9eff3"/><rect x="922.4" y="165.9" width="3.4" height="3" fill="#e9eff3"/><rect x="922.9" y="264.3" width="4.0" height="2" fill="#e9eff3"/><rect x="878.5" y="262.7" width="2.6" height="3" fill="#6f8294"/><rect x="889.3" y="257.8" width="3.9" height="3" fill="#e9eff3"/><rect x="915.4" y="232.3" width="2.5" height="2" fill="#e9eff3"/><rect x="890.9" y="259.2" width="6.9" height="3" fill="#e9eff3"/><rect x="895.7" y="239.6" width="3.7" height="2" fill="#e9eff3"/><rect x="873.6" y="198.9" width="5.8" height="3" fill="#6f8294"/><rect x="960.1" y="185.6" width="4.1" height="2" fill="#e9eff3"/><rect x="886.9" y="198.2" width="4.4" height="3" fill="#e9eff3"/><rect x="962.7" y="215.2" width="5.8" height="3" fill="#e9eff3"/><rect x="921.6" y="193.3" width="4.6" height="3" fill="#e9eff3"/><rect x="900.5" y="203.2" width="3.5" height="2" fill="#e9eff3"/><rect x="964.9" y="218.6" width="3.0" height="2" fill="#6f8294"/><rect x="919.3" y="227.4" width="4.7" height="2" fill="#e9eff3"/><rect x="920.6" y="205.3" width="4.5" height="2" fill="#e9eff3"/><rect x="876.5" y="220.2" width="6.6" height="3" fill="#6f8294"/><rect x="896.4" y="213.1" width="3.7" height="3" fill="#e9eff3"/><rect x="921.4" y="173.7" width="5.1" height="3" fill="#6f8294"/><rect x="882.7" y="246.2" width="2.2" height="2" fill="#e9eff3"/><rect x="892.3" y="236.2" width="5.6" height="2" fill="#8597a6"/><rect x="930.7" y="173.3" width="6.3" height="3" fill="#e9eff3"/><rect x="940.3" y="237.7" width="2.1" height="3" fill="#6f8294"/><rect x="950.9" y="228.5" width="6.3" height="2" fill="#e9eff3"/><rect x="921.9" y="253.9" width="3.2" height="3" fill="#e9eff3"/><rect x="958.5" y="196.1" width="6.5" height="2" fill="#8597a6"/><rect x="891.4" y="269.8" width="2.7" height="2" fill="#e9eff3"/><rect x="883.0" y="171.5" width="2.5" height="3" fill="#6f8294"/><rect x="923.2" y="238.1" width="4.0" height="2" fill="#e9eff3"/><rect x="879.4" y="223.5" width="6.6" height="3" fill="#8597a6"/><rect x="881.3" y="216.6" width="4.5" height="2" fill="#8597a6"/><rect x="948.7" y="214.1" width="2.2" height="3" fill="#e9eff3"/><rect x="884.4" y="181.9" width="2.9" height="2" fill="#e9eff3"/><rect x="967.0" y="262.1" width="4.9" height="2" fill="#e9eff3"/></g>
  <!-- connectors -->
  <g fill="#f1f3f5" stroke="#a9b3ba" stroke-width="0.7">
    <rect x="833" y="165" width="24" height="4"/><rect x="834" y="174" width="22" height="4"/>
    <rect x="832" y="203" width="25" height="4"/><rect x="833" y="211" width="24" height="4"/>
    <rect x="833" y="232" width="24" height="4"/><rect x="834" y="239" width="22" height="3"/>
  </g>
  <g fill="#56636e">
    <rect x="836" y="169" width="20" height="2"/><rect x="836" y="207" width="20" height="2"/><rect x="836" y="236" width="20" height="2"/>
  </g>
</g>
<!-- DATA box -->
<rect x="846" y="281" width="153" height="96" rx="6" fill="#243540"/>
<g fill="#e6ebee" stroke="#e6ebee" stroke-width="0.6">
  <text x="879" y="319" font-size="19" textLength="84" lengthAdjust="spacingAndGlyphs">DRINOSD</text>
  <text x="899" y="335" font-size="13" stroke-width="0.2" textLength="44" lengthAdjust="spacingAndGlyphs">LBCBLB</text>
  <text x="895" y="361" font-size="19" textLength="48" lengthAdjust="spacingAndGlyphs">DATA</text>
</g>
<!-- DB panel -->
<g filter="url(#soft)">
  <path d="M856 385 H980 a7 7 0 0 1 7 7 V545 Q987 561 970 561 H855 a7 7 0 0 1 -7 -7 V393 a8 8 0 0 1 8 -8 Z" fill="url(#dbp)"/>
  <rect x="866" y="404" width="101" height="25" fill="#283f52" stroke="#7d95b0" stroke-width="1"/>
  <path d="M866 404.5 H967" stroke="#7f9ad0" stroke-width="1.6"/>
  <g fill="#c8d6e2" opacity="0.85"><rect x="890.8" y="419.6" width="2" height="2.5"/><rect x="913.5" y="420.1" width="2.5" height="1.5"/><rect x="955.2" y="418.6" width="2.5" height="1.5"/><rect x="886.4" y="422.0" width="2.5" height="2.5"/><rect x="913.7" y="420.9" width="1.5" height="1.5"/><rect x="928.9" y="424.2" width="2.5" height="2"/><rect x="939.2" y="421.4" width="1.5" height="1.5"/><rect x="940.8" y="420.3" width="2" height="1.5"/><rect x="947.1" y="415.8" width="2.5" height="2.5"/><rect x="956.3" y="417.4" width="2" height="2"/><rect x="937.9" y="420.1" width="1.5" height="2"/><rect x="877.4" y="413.9" width="1.5" height="2"/><rect x="960.7" y="418.1" width="2.5" height="2"/><rect x="908.4" y="423.7" width="2.5" height="2"/><rect x="919.3" y="417.7" width="1.5" height="2"/><rect x="933.5" y="425.0" width="2" height="2.5"/><rect x="932.4" y="414.3" width="2" height="2.5"/><rect x="954.9" y="420.0" width="2.5" height="2.5"/><rect x="888.3" y="423.6" width="2.5" height="2"/><rect x="895.4" y="412.9" width="2.5" height="2"/><rect x="876.5" y="423.2" width="2" height="1.5"/><rect x="869.9" y="418.0" width="2" height="1.5"/><rect x="872.2" y="420.6" width="1.5" height="2"/><rect x="937.0" y="416.6" width="2" height="2.5"/><rect x="890.7" y="412.5" width="1.5" height="1.5"/><rect x="878.4" y="419.5" width="1.5" height="2"/><rect x="896.0" y="415.7" width="2.5" height="1.5"/><rect x="962.1" y="416.8" width="2" height="1.5"/><rect x="954.1" y="417.3" width="2" height="2.5"/><rect x="905.1" y="424.1" width="2.5" height="2.5"/><rect x="877.8" y="425.6" width="2.5" height="2"/><rect x="909.4" y="422.1" width="1.5" height="2"/><rect x="910.0" y="415.6" width="2" height="2.5"/><rect x="900.5" y="423.0" width="2.5" height="2"/><rect x="869.9" y="420.6" width="2.5" height="1.5"/><rect x="873.8" y="420.8" width="2" height="2"/><rect x="933.2" y="416.9" width="2.5" height="2"/><rect x="938.9" y="412.3" width="1.5" height="2.5"/><rect x="870.0" y="417.2" width="2.5" height="2"/><rect x="896.7" y="420.4" width="1.5" height="2"/></g>
  <g fill="#86a6d6">
    <rect x="897" y="437" width="3" height="3"/><rect x="906" y="436" width="3" height="3"/><rect x="916" y="438" width="3" height="3"/><rect x="926" y="436" width="3" height="3"/>
    <rect x="893" y="444" width="4" height="4"/><rect x="902" y="445" width="4" height="4"/><rect x="911" y="444" width="4" height="4"/><rect x="921" y="445" width="4" height="4"/><rect x="930" y="444" width="3" height="4"/>
  </g>
  <!-- cylinders -->
  <g stroke="#aebdca" stroke-width="1.3">
    <path d="M868 462 V486 Q868 493 917 493 Q967 493 967 486 V462" fill="#55697b"/>
    <ellipse cx="917" cy="461" rx="49.5" ry="8" fill="#4d6274"/>
    <path d="M868 500 V515 Q868 522 917 522 Q967 522 967 515 V500 Q967 494 917 494 Q868 494 868 500 Z" fill="#55697b"/>
    <path d="M868 531 V541 Q868 548 917 548 Q967 548 967 541 V531 Q967 524 917 524 Q868 524 868 531 Z" fill="#55697b"/>
  </g>
  <g fill="#dfe7ed" opacity="0.55"><rect x="887.6" y="483.4" width="2" height="3"/><rect x="898.5" y="474.7" width="1" height="2"/><rect x="899.5" y="471.1" width="1.5" height="2"/><rect x="901.1" y="481.6" width="2" height="1.5"/><rect x="879.7" y="473.4" width="1.5" height="2"/><rect x="911.7" y="485.7" width="1" height="1.5"/><rect x="902.0" y="481.0" width="2" height="4"/><rect x="895.7" y="484.1" width="1" height="2"/><rect x="899.9" y="485.2" width="2" height="2"/><rect x="952.1" y="473.8" width="2" height="1.5"/><rect x="946.6" y="473.9" width="1" height="4"/><rect x="897.7" y="484.3" width="1.5" height="4"/><rect x="902.9" y="475.6" width="1.5" height="4"/><rect x="873.4" y="475.5" width="1" height="1.5"/><rect x="915.3" y="485.1" width="2" height="4"/><rect x="923.1" y="488.7" width="2" height="2"/><rect x="873.1" y="476.5" width="2" height="3"/><rect x="921.7" y="486.5" width="1" height="3"/><rect x="881.4" y="471.6" width="1" height="2"/><rect x="955.2" y="486.7" width="2" height="1.5"/><rect x="871.2" y="483.1" width="1" height="3"/><rect x="892.7" y="466.5" width="2" height="4"/><rect x="875.1" y="487.0" width="1" height="3"/><rect x="881.9" y="488.4" width="2" height="4"/><rect x="947.1" y="467.4" width="1" height="2"/><rect x="881.6" y="486.4" width="1" height="2"/><rect x="892.7" y="472.3" width="1" height="1.5"/><rect x="916.3" y="479.1" width="1.5" height="1.5"/><rect x="941.9" y="471.7" width="2" height="4"/><rect x="874.8" y="473.4" width="1" height="1.5"/><rect x="943.6" y="467.1" width="1" height="1.5"/><rect x="915.9" y="466.8" width="2" height="1.5"/><rect x="919.0" y="477.3" width="1" height="3"/><rect x="876.8" y="474.9" width="1.5" height="3"/><rect x="904.3" y="470.4" width="1.5" height="4"/><rect x="881.8" y="478.8" width="2" height="4"/><rect x="945.6" y="479.0" width="1" height="3"/><rect x="913.8" y="481.0" width="2" height="4"/><rect x="930.5" y="467.0" width="1.5" height="1.5"/><rect x="905.4" y="477.4" width="2" height="3"/><rect x="909.9" y="482.0" width="1.5" height="1.5"/><rect x="893.3" y="478.3" width="2" height="1.5"/><rect x="946.3" y="471.2" width="1" height="1.5"/><rect x="959.0" y="474.6" width="2" height="3"/><rect x="881.5" y="481.9" width="2" height="4"/><rect x="933.4" y="482.9" width="2" height="1.5"/><rect x="947.1" y="482.5" width="1.5" height="2"/><rect x="892.4" y="474.9" width="2" height="1.5"/><rect x="923.6" y="481.2" width="1.5" height="2"/><rect x="947.8" y="473.9" width="1" height="1.5"/><rect x="950.2" y="481.5" width="2" height="3"/><rect x="925.0" y="484.4" width="1" height="2"/><rect x="880.1" y="483.2" width="2" height="1.5"/><rect x="922.3" y="486.0" width="1" height="1.5"/><rect x="893.0" y="470.1" width="1" height="4"/><rect x="928.5" y="483.3" width="1.5" height="3"/><rect x="904.9" y="475.1" width="1.5" height="4"/><rect x="961.8" y="474.6" width="1" height="4"/><rect x="950.1" y="488.2" width="1.5" height="4"/><rect x="884.8" y="475.2" width="1" height="2"/><rect x="879.1" y="483.2" width="2" height="4"/><rect x="925.7" y="485.7" width="1" height="3"/><rect x="941.4" y="469.4" width="2" height="3"/><rect x="958.8" y="485.6" width="2" height="3"/><rect x="933.8" y="485.7" width="2" height="3"/><rect x="954.5" y="473.1" width="1.5" height="4"/><rect x="946.4" y="470.6" width="2" height="3"/><rect x="892.7" y="477.1" width="1" height="4"/><rect x="964.2" y="477.0" width="2" height="2"/><rect x="914.5" y="485.2" width="2" height="1.5"/><rect x="915.7" y="482.6" width="1.5" height="1.5"/><rect x="914.4" y="471.3" width="1" height="1.5"/><rect x="961.1" y="485.6" width="1" height="2"/><rect x="943.7" y="469.2" width="2" height="1.5"/><rect x="955.5" y="471.9" width="1" height="3"/><rect x="887.4" y="468.1" width="1" height="1.5"/><rect x="878.8" y="485.2" width="1.5" height="1.5"/><rect x="903.9" y="479.3" width="2" height="3"/><rect x="870.7" y="473.7" width="1.5" height="4"/><rect x="916.2" y="470.8" width="2" height="4"/><rect x="907.1" y="478.5" width="1" height="3"/><rect x="877.2" y="475.9" width="1.5" height="3"/><rect x="879.2" y="487.6" width="1.5" height="3"/><rect x="941.9" y="472.8" width="2" height="3"/><rect x="880.2" y="487.7" width="1.5" height="1.5"/><rect x="933.4" y="477.7" width="1" height="3"/><rect x="934.5" y="479.0" width="1" height="2"/><rect x="887.0" y="486.5" width="2" height="4"/><rect x="881.7" y="487.4" width="1" height="3"/><rect x="931.3" y="480.9" width="1.5" height="3"/><rect x="931.5" y="476.5" width="1.5" height="2"/><rect x="937.0" y="468.5" width="1" height="4"/><rect x="904.1" y="472.1" width="1.5" height="1.5"/><rect x="952.9" y="467.0" width="2" height="3"/><rect x="893.5" y="483.7" width="1.5" height="3"/><rect x="959.8" y="476.3" width="1" height="3"/><rect x="917.3" y="488.9" width="1" height="3"/><rect x="926.1" y="481.7" width="2" height="1.5"/><rect x="887.6" y="470.4" width="1.5" height="4"/><rect x="947.5" y="483.2" width="2" height="2"/><rect x="951.7" y="484.4" width="2" height="2"/><rect x="924.0" y="470.6" width="1.5" height="3"/><rect x="944.3" y="466.7" width="1.5" height="4"/><rect x="960.2" y="474.8" width="2" height="3"/><rect x="930.2" y="488.5" width="2" height="3"/><rect x="955.1" y="481.4" width="1" height="2"/><rect x="939.0" y="466.1" width="2" height="2"/><rect x="916.7" y="478.0" width="1.5" height="2"/><rect x="888.4" y="478.2" width="1" height="4"/><rect x="880.6" y="472.5" width="2" height="2"/><rect x="882.9" y="484.2" width="2" height="1.5"/><rect x="872.4" y="480.2" width="2" height="1.5"/><rect x="917.4" y="466.4" width="1.5" height="3"/><rect x="901.2" y="473.9" width="2" height="2"/><rect x="877.6" y="485.3" width="1" height="1.5"/><rect x="940.3" y="473.9" width="1" height="1.5"/><rect x="951.8" y="476.1" width="1" height="4"/><rect x="900.0" y="484.1" width="1.5" height="1.5"/><rect x="950.3" y="482.2" width="1.5" height="4"/><rect x="915.0" y="467.6" width="1.5" height="2"/><rect x="931.7" y="473.0" width="1.5" height="4"/><rect x="941.9" y="475.2" width="1" height="4"/><rect x="955.4" y="482.6" width="1.5" height="3"/><rect x="912.5" y="474.3" width="1.5" height="2"/><rect x="962.1" y="484.5" width="1.5" height="3"/><rect x="883.6" y="476.6" width="1" height="2"/><rect x="889.9" y="469.9" width="1.5" height="2"/><rect x="930.5" y="469.2" width="2" height="2"/><rect x="912.1" y="470.3" width="1" height="4"/><rect x="912.6" y="475.4" width="2" height="1.5"/><rect x="892.7" y="466.9" width="1.5" height="1.5"/><rect x="956.4" y="486.3" width="1" height="1.5"/><rect x="907.0" y="470.4" width="1.5" height="1.5"/><rect x="902.9" y="468.9" width="1" height="3"/><rect x="896.1" y="484.1" width="1.5" height="3"/><rect x="916.4" y="478.9" width="1" height="3"/><rect x="929.8" y="473.9" width="1" height="1.5"/><rect x="934.8" y="488.3" width="2" height="1.5"/><rect x="880.0" y="481.7" width="1" height="2"/><rect x="917.8" y="477.1" width="1" height="3"/><rect x="889.1" y="488.4" width="1.5" height="3"/><rect x="946.3" y="487.1" width="2" height="1.5"/><rect x="906.3" y="483.3" width="2" height="4"/><rect x="878.3" y="472.7" width="1.5" height="1.5"/><rect x="918.2" y="478.6" width="2" height="4"/><rect x="886.6" y="483.0" width="2" height="4"/><rect x="949.4" y="478.7" width="1" height="3"/><rect x="946.2" y="476.1" width="1.5" height="4"/><rect x="902.8" y="484.9" width="2" height="4"/><rect x="960.2" y="467.0" width="1" height="1.5"/><rect x="948.2" y="499.2" width="2" height="1.5"/><rect x="900.4" y="511.4" width="2" height="1.5"/><rect x="953.5" y="517.9" width="1.5" height="4"/><rect x="955.2" y="514.6" width="1.5" height="3"/><rect x="870.2" y="501.7" width="1" height="3"/><rect x="924.0" y="499.6" width="1" height="2"/><rect x="892.9" y="498.2" width="1" height="2"/><rect x="925.6" y="497.3" width="1" height="3"/><rect x="961.9" y="502.3" width="2" height="4"/><rect x="918.0" y="518.8" width="1.5" height="2"/><rect x="914.4" y="511.9" width="1" height="1.5"/><rect x="926.8" y="517.6" width="1" height="2"/><rect x="959.6" y="503.1" width="1" height="4"/><rect x="907.9" y="516.8" width="2" height="1.5"/><rect x="931.0" y="515.3" width="2" height="3"/><rect x="908.3" y="512.9" width="1" height="3"/><rect x="949.4" y="511.3" width="1.5" height="2"/><rect x="881.1" y="497.2" width="1.5" height="1.5"/><rect x="902.4" y="501.6" width="1" height="3"/><rect x="910.2" y="512.6" width="2" height="2"/><rect x="893.7" y="517.1" width="1" height="3"/><rect x="892.4" y="507.5" width="1.5" height="2"/><rect x="900.7" y="515.0" width="1" height="2"/><rect x="953.1" y="520.7" width="2" height="4"/><rect x="958.5" y="509.9" width="1.5" height="3"/><rect x="960.1" y="518.7" width="1.5" height="4"/><rect x="954.9" y="520.6" width="1.5" height="1.5"/><rect x="897.7" y="519.4" width="1" height="1.5"/><rect x="872.7" y="500.6" width="2" height="1.5"/><rect x="930.7" y="498.0" width="2" height="2"/><rect x="896.2" y="507.4" width="1.5" height="4"/><rect x="940.5" y="514.9" width="1.5" height="2"/><rect x="879.8" y="504.2" width="1.5" height="4"/><rect x="877.4" y="500.7" width="2" height="3"/><rect x="962.8" y="520.5" width="2" height="3"/><rect x="959.6" y="507.4" width="1.5" height="4"/><rect x="920.0" y="510.0" width="1.5" height="3"/><rect x="897.1" y="508.1" width="1.5" height="3"/><rect x="941.0" y="519.3" width="2" height="1.5"/><rect x="871.4" y="512.1" width="1" height="1.5"/><rect x="885.7" y="498.2" width="1" height="4"/><rect x="903.7" y="520.2" width="1.5" height="1.5"/><rect x="916.6" y="502.7" width="1.5" height="4"/><rect x="955.9" y="517.1" width="2" height="1.5"/><rect x="912.8" y="503.3" width="2" height="4"/><rect x="909.7" y="503.2" width="1" height="1.5"/><rect x="910.8" y="512.1" width="2" height="2"/><rect x="956.7" y="516.4" width="1" height="2"/><rect x="940.6" y="517.2" width="1.5" height="3"/><rect x="922.4" y="503.7" width="1" height="1.5"/><rect x="871.6" y="512.4" width="1.5" height="4"/><rect x="919.5" y="515.1" width="2" height="4"/><rect x="905.3" y="512.2" width="1.5" height="2"/><rect x="877.0" y="500.3" width="2" height="1.5"/><rect x="908.8" y="505.4" width="1.5" height="3"/><rect x="946.3" y="507.9" width="2" height="2"/><rect x="924.8" y="500.4" width="1" height="4"/><rect x="916.1" y="502.5" width="1.5" height="3"/><rect x="872.9" y="510.8" width="2" height="1.5"/><rect x="916.3" y="503.7" width="2" height="3"/><rect x="879.7" y="513.0" width="1.5" height="1.5"/><rect x="918.9" y="518.5" width="2" height="4"/><rect x="888.5" y="519.1" width="1" height="4"/><rect x="959.4" y="506.5" width="1" height="3"/><rect x="890.4" y="497.9" width="1.5" height="3"/><rect x="928.0" y="510.3" width="1" height="2"/><rect x="909.6" y="506.9" width="1" height="4"/><rect x="891.8" y="501.8" width="1" height="1.5"/><rect x="940.6" y="517.1" width="2" height="1.5"/><rect x="959.5" y="520.4" width="2" height="1.5"/><rect x="911.0" y="520.6" width="1.5" height="3"/><rect x="897.5" y="510.4" width="1" height="2"/><rect x="916.2" y="501.0" width="1" height="2"/><rect x="935.6" y="508.2" width="1.5" height="1.5"/><rect x="883.5" y="498.3" width="2" height="2"/><rect x="899.5" y="512.6" width="1" height="2"/><rect x="874.6" y="520.1" width="2" height="2"/><rect x="906.3" y="499.6" width="1.5" height="2"/><rect x="963.8" y="503.7" width="1" height="1.5"/><rect x="883.8" y="500.0" width="1.5" height="1.5"/><rect x="958.8" y="497.2" width="1.5" height="2"/><rect x="963.1" y="502.9" width="1.5" height="4"/><rect x="879.9" y="517.3" width="1.5" height="1.5"/><rect x="940.2" y="509.7" width="1.5" height="4"/><rect x="914.1" y="509.9" width="1.5" height="2"/><rect x="920.8" y="517.0" width="1" height="3"/><rect x="958.6" y="517.4" width="1" height="3"/><rect x="961.5" y="517.2" width="1" height="3"/><rect x="895.3" y="501.9" width="1" height="1.5"/><rect x="908.9" y="517.9" width="1" height="1.5"/><rect x="885.0" y="499.9" width="1.5" height="3"/><rect x="919.9" y="515.4" width="1" height="4"/><rect x="921.3" y="507.6" width="1" height="2"/><rect x="900.7" y="509.2" width="1.5" height="3"/><rect x="926.2" y="513.9" width="2" height="3"/><rect x="951.9" y="517.0" width="1.5" height="3"/><rect x="895.6" y="500.0" width="2" height="2"/><rect x="939.6" y="505.2" width="2" height="2"/><rect x="896.8" y="520.2" width="1.5" height="2"/><rect x="915.4" y="509.8" width="1" height="4"/><rect x="964.5" y="498.2" width="1.5" height="4"/><rect x="922.2" y="511.7" width="1.5" height="1.5"/><rect x="892.5" y="506.2" width="1" height="1.5"/><rect x="904.8" y="502.2" width="2" height="4"/><rect x="954.0" y="507.3" width="1.5" height="3"/><rect x="871.1" y="505.9" width="1.5" height="4"/><rect x="911.7" y="518.8" width="2" height="1.5"/><rect x="925.5" y="500.5" width="1" height="1.5"/><rect x="905.2" y="511.8" width="1" height="1.5"/><rect x="889.9" y="507.4" width="1" height="1.5"/><rect x="872.7" y="514.6" width="1.5" height="4"/><rect x="940.1" y="516.9" width="1" height="4"/><rect x="902.2" y="511.0" width="2" height="4"/><rect x="891.4" y="500.3" width="1.5" height="3"/><rect x="922.5" y="499.8" width="1" height="1.5"/><rect x="910.9" y="516.1" width="1.5" height="1.5"/><rect x="916.6" y="520.7" width="1.5" height="3"/><rect x="883.3" y="501.9" width="2" height="4"/><rect x="925.7" y="519.8" width="1.5" height="4"/><rect x="897.3" y="512.4" width="2" height="1.5"/><rect x="876.1" y="518.1" width="2" height="3"/><rect x="876.3" y="497.2" width="1.5" height="4"/><rect x="930.0" y="499.3" width="2" height="3"/><rect x="931.2" y="518.2" width="1" height="3"/><rect x="889.2" y="506.4" width="1" height="1.5"/><rect x="930.9" y="497.6" width="2" height="2"/><rect x="924.5" y="499.0" width="1" height="4"/><rect x="948.3" y="519.0" width="1.5" height="3"/><rect x="902.7" y="507.9" width="2" height="2"/><rect x="889.2" y="504.2" width="2" height="2"/><rect x="925.3" y="505.7" width="2" height="3"/><rect x="899.9" y="517.6" width="2" height="2"/><rect x="912.5" y="514.3" width="1.5" height="2"/><rect x="916.9" y="517.5" width="1" height="1.5"/><rect x="959.1" y="499.9" width="2" height="4"/><rect x="950.0" y="504.6" width="1" height="3"/><rect x="917.4" y="506.2" width="2" height="1.5"/><rect x="892.5" y="505.8" width="1" height="2"/><rect x="897.1" y="505.3" width="1" height="3"/><rect x="939.6" y="502.0" width="1.5" height="4"/><rect x="886.4" y="501.0" width="1.5" height="2"/><rect x="890.5" y="513.1" width="2" height="2"/><rect x="886.7" y="515.0" width="1.5" height="4"/><rect x="926.8" y="512.1" width="1.5" height="3"/><rect x="875.3" y="515.9" width="1.5" height="4"/><rect x="871.7" y="501.2" width="2" height="4"/><rect x="935.1" y="502.3" width="2" height="4"/><rect x="902.9" y="520.9" width="1.5" height="2"/><rect x="880.9" y="507.1" width="2" height="2"/><rect x="925.4" y="499.6" width="2" height="2"/><rect x="950.8" y="536.1" width="2" height="2"/><rect x="952.0" y="535.5" width="1.5" height="1.5"/><rect x="925.4" y="542.7" width="1" height="1.5"/><rect x="936.7" y="545.5" width="2" height="3"/><rect x="925.5" y="539.9" width="1.5" height="3"/><rect x="963.9" y="542.9" width="2" height="3"/><rect x="957.8" y="535.0" width="2" height="3"/><rect x="910.2" y="534.0" width="1" height="2"/><rect x="898.1" y="530.6" width="1.5" height="1.5"/><rect x="900.8" y="530.1" width="2" height="4"/><rect x="886.4" y="534.5" width="1" height="4"/><rect x="922.5" y="533.9" width="2" height="1.5"/><rect x="927.6" y="540.3" width="1" height="2"/><rect x="881.3" y="537.5" width="1" height="4"/><rect x="952.5" y="536.8" width="1.5" height="3"/><rect x="876.3" y="532.3" width="1.5" height="2"/><rect x="959.4" y="529.2" width="1" height="4"/><rect x="905.3" y="529.8" width="1.5" height="2"/><rect x="895.1" y="541.8" width="1" height="2"/><rect x="893.5" y="531.9" width="1.5" height="3"/><rect x="955.8" y="528.9" width="2" height="2"/><rect x="941.3" y="531.3" width="1.5" height="3"/><rect x="962.6" y="533.2" width="1" height="2"/><rect x="874.0" y="536.3" width="2" height="2"/><rect x="905.4" y="543.5" width="2" height="4"/><rect x="917.9" y="540.1" width="1.5" height="4"/><rect x="894.5" y="537.3" width="2" height="4"/><rect x="884.6" y="527.6" width="1.5" height="1.5"/><rect x="890.1" y="541.4" width="2" height="2"/><rect x="950.5" y="540.8" width="1.5" height="3"/><rect x="874.1" y="537.6" width="2" height="3"/><rect x="889.3" y="530.0" width="2" height="1.5"/><rect x="916.0" y="541.0" width="1" height="1.5"/><rect x="921.7" y="539.7" width="2" height="2"/><rect x="894.6" y="528.6" width="1" height="2"/><rect x="879.1" y="540.3" width="2" height="4"/><rect x="937.3" y="537.5" width="2" height="4"/><rect x="895.0" y="540.3" width="1" height="1.5"/><rect x="896.7" y="540.3" width="1" height="1.5"/><rect x="873.1" y="536.8" width="1.5" height="3"/><rect x="879.7" y="542.2" width="1.5" height="1.5"/><rect x="946.5" y="535.5" width="2" height="3"/><rect x="929.6" y="535.4" width="1" height="1.5"/><rect x="902.8" y="531.4" width="1.5" height="4"/><rect x="879.1" y="533.0" width="2" height="1.5"/><rect x="921.8" y="538.4" width="1.5" height="1.5"/><rect x="872.4" y="527.5" width="1.5" height="2"/><rect x="888.7" y="537.8" width="1.5" height="4"/><rect x="932.9" y="541.0" width="2" height="4"/><rect x="930.5" y="542.2" width="1" height="4"/><rect x="917.5" y="528.9" width="2" height="2"/><rect x="911.7" y="529.4" width="2" height="2"/><rect x="891.5" y="537.0" width="1.5" height="1.5"/><rect x="876.9" y="528.3" width="1" height="4"/><rect x="871.9" y="527.4" width="2" height="1.5"/><rect x="875.5" y="536.7" width="1.5" height="1.5"/><rect x="874.6" y="539.8" width="1.5" height="4"/><rect x="916.7" y="541.8" width="1" height="3"/><rect x="929.4" y="528.7" width="2" height="1.5"/><rect x="880.8" y="539.9" width="1" height="1.5"/><rect x="885.1" y="534.4" width="2" height="2"/><rect x="929.9" y="528.6" width="2" height="3"/><rect x="918.7" y="545.3" width="1" height="4"/><rect x="876.5" y="539.8" width="1" height="4"/><rect x="933.3" y="533.3" width="1.5" height="4"/><rect x="914.2" y="538.4" width="1" height="3"/><rect x="899.0" y="541.0" width="1.5" height="4"/><rect x="941.0" y="530.9" width="1" height="3"/><rect x="940.7" y="545.2" width="1.5" height="2"/><rect x="938.4" y="538.4" width="2" height="2"/><rect x="964.8" y="527.9" width="1.5" height="2"/><rect x="906.6" y="533.1" width="2" height="2"/><rect x="956.8" y="535.6" width="1.5" height="4"/><rect x="923.7" y="533.5" width="1.5" height="1.5"/><rect x="904.6" y="542.5" width="1.5" height="3"/><rect x="955.9" y="534.4" width="2" height="2"/><rect x="883.1" y="543.7" width="2" height="1.5"/><rect x="931.0" y="540.8" width="1" height="4"/><rect x="915.4" y="534.2" width="2" height="4"/><rect x="928.2" y="536.0" width="1" height="2"/><rect x="956.9" y="530.7" width="2" height="1.5"/><rect x="963.1" y="529.6" width="2" height="1.5"/><rect x="881.6" y="538.3" width="1.5" height="2"/><rect x="956.1" y="535.3" width="1" height="2"/><rect x="890.5" y="542.8" width="1.5" height="4"/><rect x="900.0" y="535.4" width="1" height="3"/><rect x="922.2" y="538.2" width="1.5" height="3"/><rect x="922.5" y="531.1" width="1" height="3"/><rect x="888.9" y="530.9" width="1.5" height="2"/><rect x="951.2" y="543.6" width="1.5" height="2"/><rect x="940.2" y="528.7" width="2" height="3"/><rect x="943.5" y="542.8" width="1" height="4"/><rect x="870.2" y="539.2" width="1" height="2"/><rect x="941.5" y="542.6" width="1" height="3"/><rect x="902.7" y="532.5" width="1.5" height="2"/><rect x="956.0" y="544.4" width="2" height="1.5"/><rect x="913.2" y="531.8" width="2" height="4"/><rect x="895.2" y="532.5" width="2" height="2"/><rect x="912.8" y="530.9" width="1.5" height="1.5"/><rect x="880.1" y="544.1" width="1.5" height="3"/><rect x="945.5" y="541.8" width="1" height="3"/><rect x="941.0" y="538.5" width="1" height="1.5"/><rect x="886.5" y="533.1" width="2" height="2"/><rect x="891.2" y="527.9" width="1.5" height="1.5"/><rect x="908.7" y="533.4" width="1.5" height="1.5"/><rect x="916.2" y="541.8" width="1.5" height="2"/><rect x="915.9" y="529.3" width="1" height="3"/><rect x="950.5" y="536.1" width="1.5" height="2"/><rect x="950.4" y="534.1" width="1.5" height="3"/><rect x="939.5" y="544.7" width="1.5" height="4"/><rect x="923.6" y="537.2" width="1" height="4"/><rect x="877.0" y="532.8" width="1" height="1.5"/><rect x="932.7" y="530.3" width="2" height="3"/><rect x="899.8" y="533.9" width="1" height="2"/><rect x="950.3" y="543.7" width="2" height="1.5"/><rect x="963.5" y="530.1" width="2" height="4"/><rect x="903.1" y="536.2" width="1" height="4"/><rect x="934.3" y="543.6" width="2" height="1.5"/><rect x="880.4" y="541.5" width="2" height="1.5"/><rect x="889.1" y="529.0" width="1" height="3"/><rect x="872.7" y="531.0" width="2" height="4"/><rect x="873.6" y="536.7" width="2" height="2"/><rect x="901.0" y="535.5" width="2" height="3"/><rect x="942.8" y="540.3" width="1" height="2"/><rect x="936.7" y="539.3" width="1" height="2"/><rect x="941.7" y="535.3" width="2" height="3"/><rect x="912.3" y="536.9" width="2" height="4"/><rect x="883.0" y="540.8" width="1.5" height="3"/><rect x="877.4" y="541.4" width="2" height="3"/><rect x="911.6" y="534.4" width="2" height="3"/><rect x="897.7" y="533.6" width="1" height="3"/><rect x="905.4" y="530.5" width="1.5" height="3"/><rect x="926.5" y="534.7" width="2" height="4"/><rect x="948.0" y="544.5" width="2" height="3"/><rect x="870.7" y="540.9" width="1.5" height="1.5"/><rect x="931.7" y="535.7" width="2" height="3"/><rect x="928.7" y="536.4" width="2" height="4"/><rect x="943.8" y="541.1" width="1.5" height="1.5"/><rect x="950.6" y="528.4" width="1.5" height="4"/><rect x="907.6" y="530.1" width="1.5" height="2"/><rect x="961.2" y="544.2" width="1.5" height="1.5"/><rect x="964.2" y="544.8" width="2" height="2"/><rect x="913.2" y="537.7" width="1.5" height="3"/><rect x="932.7" y="542.4" width="2" height="1.5"/><rect x="870.1" y="535.4" width="1.5" height="1.5"/><rect x="956.7" y="539.1" width="1.5" height="2"/><rect x="929.4" y="538.1" width="1.5" height="3"/><rect x="951.6" y="536.9" width="1.5" height="2"/><rect x="876.1" y="537.5" width="1.5" height="1.5"/><rect x="903.0" y="527.1" width="1" height="4"/></g>
  <g fill="#f1f3f5" stroke="#a9b3ba" stroke-width="0.7">
    <rect x="832" y="407" width="25" height="4"/><rect x="833" y="416" width="24" height="4"/>
  </g>
  <rect x="836" y="411" width="20" height="3" fill="#56636e"/>
</g>
<!-- connector lines right -->
<g stroke="#8a959d" stroke-width="1.2">
  <path d="M829 290 H846 M833 371 H846"/>
</g>
<!-- diamond arrow -->
<path d="M810 492 Q822 490 830 484 Q834 490 846 492 Q834 494 830 500 Q822 494 810 492 Z" fill="#39444e"/>
<!-- titles -->
<g fill="#25292d" stroke="#25292d" stroke-width="0.9">
  <text x="12" y="67" font-size="26" textLength="256" lengthAdjust="spacingAndGlyphs">NETWORK BICUTURE</text>
  <text x="879" y="96" font-size="24" textLength="90" lengthAdjust="spacingAndGlyphs">ACCESS</text>
  <text x="835" y="126" font-size="24" textLength="183" lengthAdjust="spacingAndGlyphs">MANAGEMENT</text>
  <text x="107" y="600" font-size="23" textLength="62" lengthAdjust="spacingAndGlyphs">DATA</text>
  <text x="61" y="633" font-size="24" textLength="159" lengthAdjust="spacingAndGlyphs">ENCRYPTION</text>
  <text x="839" y="605" font-size="25" textLength="162" lengthAdjust="spacingAndGlyphs">APPLICATION</text>
  <text x="851" y="636" font-size="25" textLength="125" lengthAdjust="spacingAndGlyphs">SECURITY</text>
</g>

</svg>
</body></html>
